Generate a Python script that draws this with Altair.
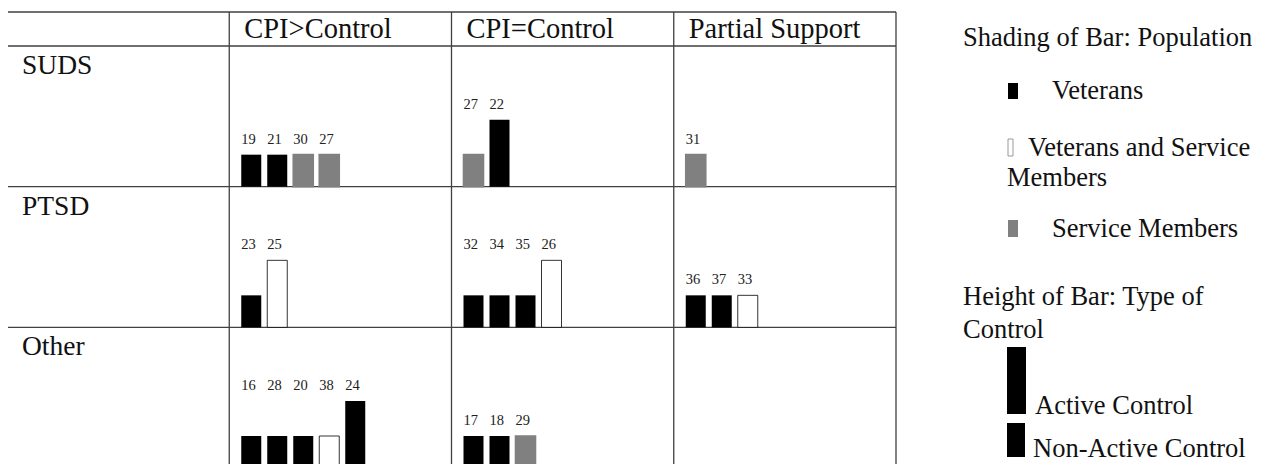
import altair as alt
import pandas as pd

# ---------------- data ----------------
outcomes = ["SUDS", "PTSD", "Other"]
results = ["CPI>Control", "CPI=Control", "Partial Support"]
population_order = ["Veterans", "Veterans and Service Members", "Service Members"]
control_order = ["Active Control", "Non-Active Control"]

study_id = [19, 21, 30, 27, 27, 22, 31,
            23, 25, 32, 34, 35, 26, 36, 37, 33,
            16, 28, 20, 38, 24, 17, 18, 29]
study_outcome = ["SUDS"] * 7 + ["PTSD"] * 9 + ["Other"] * 8
study_result = (["CPI>Control"] * 4 + ["CPI=Control"] * 2 + ["Partial Support"] * 1
                + ["CPI>Control"] * 2 + ["CPI=Control"] * 4 + ["Partial Support"] * 3
                + ["CPI>Control"] * 5 + ["CPI=Control"] * 3)
V, VS, S = population_order
study_population = [V, V, S, S, S, V, S,
                    V, VS, V, V, V, VS, V, V, VS,
                    V, V, V, VS, V, V, V, S]
A, N = control_order
study_control = [N, N, N, N, N, A, N,
                 N, A, N, N, N, A, N, N, N,
                 N, N, N, N, A, N, N, N]

legend_pop_title = "Shading of Bar: Population"
legend_ctl_title = ["Height of Bar: Type of", "Control"]

# ---------------- layout (page pixels -> table units) ----------------
W, H = 1247, 456
PX_COL = 222.25
PX_ROW = 140.67
TABLE_LEFT = 7
BODY_TOP = 46
HEADER_H = 34
BAR_W, BAR_STEP, BAR_PAD = 20, 26, 12
BAR_H = {A: 67, N: 32}
LABEL_GAP = 11
FONT = "Liberation Serif"


def ux(px):
    return (px - TABLE_LEFT) / PX_COL


def uy(px):
    return (px - BODY_TOP) / PX_ROW


def dx(px):
    return px / PX_COL


def dy(px):
    return px / PX_ROW


# bars table built from the arrays
rows = []
counter = {}
for sid, o, r, p, c in zip(study_id, study_outcome, study_result, study_population, study_control):
    key = (o, r)
    i = counter.get(key, 0)
    counter[key] = i + 1
    col = results.index(r) + 1
    row = outcomes.index(o)
    x0 = col + dx(BAR_PAD + BAR_STEP * i)
    bottom = row + 1
    top = bottom - dy(BAR_H[c])
    rows.append(dict(study=str(sid), outcome=o, result=r, population=p, control=c,
                     x0=x0, x1=x0 + dx(BAR_W), top=top, bottom=bottom))
bars_df = pd.DataFrame(rows)
bars_df["label_y"] = bars_df.groupby(["outcome", "result"])["top"].transform("min") - dy(LABEL_GAP)

xs = alt.Scale(domain=[ux(8), ux(8 + W)], nice=False, zero=False)
ys = alt.Scale(domain=[uy(8), uy(8 + H)], reverse=True, nice=False, zero=False)

header_top = -dy(HEADER_H)
col_edges = [0, 1, 2, 3, 4]
row_edges = [header_top, 0, 1, 2, 3]

vlines = pd.DataFrame({"x": col_edges, "y": [header_top] * 5, "y2": [3] * 5})
hlines = pd.DataFrame({"y": row_edges, "x": [0] * 5, "x2": [4] * 5})

grid_v = alt.Chart(vlines).mark_rule(color="#404040", strokeWidth=1.3).encode(
    x=alt.X("x:Q", scale=xs, axis=None), y=alt.Y("y:Q", scale=ys, axis=None), y2="y2:Q")
grid_h = alt.Chart(hlines).mark_rule(color="#404040", strokeWidth=1.3).encode(
    x=alt.X("x:Q", scale=xs, axis=None), x2="x2:Q", y=alt.Y("y:Q", scale=ys, axis=None))

head_df = pd.DataFrame({"text": results,
                        "x": [i + 1 + dx(15) for i in range(len(results))],
                        "y": [header_top + dy(26)] * len(results)})
rowlab_df = pd.DataFrame({"text": outcomes,
                          "x": [dx(15)] * len(outcomes),
                          "y": [i + dy(28) for i in range(len(outcomes))]})
text_style = dict(align="left", baseline="alphabetic", font=FONT, color="#111111")

heads = alt.Chart(head_df).mark_text(fontSize=28.5, **text_style).encode(
    x=alt.X("x:Q", scale=xs, axis=None), y=alt.Y("y:Q", scale=ys, axis=None), text="text:N")
rowlabs = alt.Chart(rowlab_df).mark_text(fontSize=27.5, **text_style).encode(
    x=alt.X("x:Q", scale=xs, axis=None), y=alt.Y("y:Q", scale=ys, axis=None), text="text:N")

bars = alt.Chart(bars_df).mark_rect().encode(
    x=alt.X("x0:Q", scale=xs, axis=None), x2="x1:Q",
    y=alt.Y("top:Q", scale=ys, axis=None), y2="bottom:Q",
    fill=alt.Fill("population:N", scale=alt.Scale(domain=population_order,
                                                  range=["#000000", "#ffffff", "#808080"]), legend=None),
    stroke=alt.Stroke("population:N", scale=alt.Scale(domain=population_order,
                                                      range=["#000000", "#000000", "#808080"]), legend=None),
    strokeWidth=alt.StrokeWidth("population:N", scale=alt.Scale(domain=population_order,
                                                                range=[0, 1.6, 0]), legend=None),
)

labels = alt.Chart(bars_df).mark_text(align="left", baseline="alphabetic", font=FONT,
                                      fontSize=14.5, color="#222222").encode(
    x=alt.X("x0:Q", scale=xs, axis=None), y=alt.Y("label_y:Q", scale=ys, axis=None), text="study:N")

# ---------------- legend (drawn as text + rect marks) ----------------
leg_text = pd.DataFrame({
    "text": [legend_pop_title, population_order[0], "Veterans and Service", "Members",
             population_order[2], legend_ctl_title[0], legend_ctl_title[1],
             control_order[0], control_order[1]],
    "x": [ux(v) for v in [963, 1052, 1028, 1007, 1052, 963, 963, 1035, 1033]],
    "y": [uy(v) for v in [46, 99, 156, 186, 237, 305, 338, 414, 457]],
})
leg_texts = alt.Chart(leg_text).mark_text(fontSize=26.5, **text_style).encode(
    x=alt.X("x:Q", scale=xs, axis=None), y=alt.Y("y:Q", scale=ys, axis=None), text="text:N")

leg_icons = pd.DataFrame({
    "x0": [ux(v) for v in [1008, 1008, 1008, 1007, 1007]],
    "x1": [ux(v) for v in [1018, 1013, 1018, 1026, 1025]],
    "y0": [uy(99 - 16), uy(156 - 17), uy(237 - 17), uy(414 - BAR_H[A]), uy(457 - 34)],
    "y1": [uy(99), uy(156), uy(237), uy(414), uy(457)],
    "fill": ["#000000", "#ffffff", "#808080", "#000000", "#000000"],
    "stroke": ["#000000", "#808080", "#808080", "#000000", "#000000"],
    "sw": [0, 0.8, 0, 0, 0],
})
leg_rects = alt.Chart(leg_icons).mark_rect().encode(
    x=alt.X("x0:Q", scale=xs, axis=None), x2="x1:Q",
    y=alt.Y("y0:Q", scale=ys, axis=None), y2="y1:Q",
    fill=alt.Fill("fill:N", scale=None), stroke=alt.Stroke("stroke:N", scale=None),
    strokeWidth=alt.StrokeWidth("sw:Q", scale=None))

chart = alt.layer(grid_v, grid_h, heads, rowlabs, bars, labels, leg_texts, leg_rects).properties(
    width=W, height=H, padding=0, autosize=alt.AutoSizeParams(type="none"),
    background="white"
).configure_view(stroke=None)

chart.save("out.html", embed_options={"renderer": "svg", "actions": False})
